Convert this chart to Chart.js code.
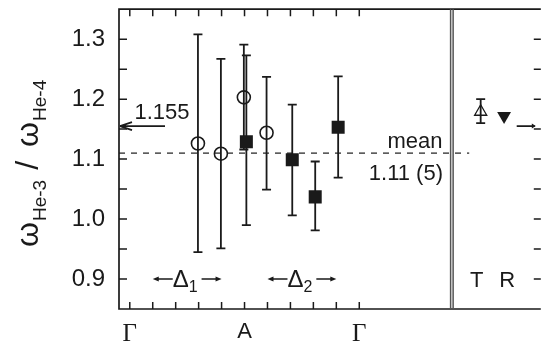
<!DOCTYPE html>
<html>
<head>
<meta charset="utf-8">
<script src="https://cdn.jsdelivr.net/npm/chart.js@4.4.1/dist/chart.umd.min.js"></script>
<style>
html, body { margin: 0; padding: 0; background: #fff; overflow: hidden; }
#wrap { width: 543px; height: 343px; overflow: hidden; }
</style>
</head>
<body>
<div id="wrap"><canvas id="chart" width="550" height="343"></canvas></div>
<script>
// open circles
const circleX = [2.97, 3.97, 4.97, 5.96];
const circleY = [1.126, 1.109, 1.203, 1.144];
const circleLow = [0.945, 0.951, 1.116, 1.049];
const circleHigh = [1.308, 1.267, 1.291, 1.237];

// filled squares
const squareX = [5.08, 7.08, 8.08, 9.08];
const squareY = [1.129, 1.099, 1.037, 1.153];
const squareLow = [0.990, 1.006, 0.981, 1.069];
const squareHigh = [1.273, 1.191, 1.096, 1.238];

// right panel: T (open triangle) and R (filled triangle)
const tX = [15.29];
const tY = [1.179];
const tLow = [1.160];
const tHigh = [1.200];
const rX = [16.31];
const rY = [1.172];

const xTickVals = [0, 1, 2, 3, 4, 5, 6, 7, 8, 9, 10];
const xLabelAt = [0, 5, 10];
const xLabels = ["Γ", "A", "Γ"];
const yMajor = [0.9, 1.0, 1.1, 1.2, 1.3];
const yMinor = [0.9, 0.95, 1.0, 1.05, 1.1, 1.15, 1.2, 1.25, 1.3];

const meanValue = 1.11;
const arrowValue = 1.155;
const deltaSpans = [[1, 4], [6, 9]];
const deltaSubs = ["1", "2"];
const splitAt = [13.98, 14.09];

const sans = '"Liberation Sans", Arial, Helvetica, sans-serif';
const serif = '"Liberation Serif", "Times New Roman", serif';
const ink = "#1a1a1a";

function pts(xs, ys) {
  return xs.map((x, i) => ({ x: x, y: ys[i] }));
}

function errBars(ctx, x, y, xs, lo, hi, cap) {
  xs.forEach((v, i) => {
    const px = x.getPixelForValue(v);
    const a = y.getPixelForValue(lo[i]);
    const b = y.getPixelForValue(hi[i]);
    ctx.beginPath();
    ctx.moveTo(px, a); ctx.lineTo(px, b);
    ctx.moveTo(px - cap, a); ctx.lineTo(px + cap, a);
    ctx.moveTo(px - cap, b); ctx.lineTo(px + cap, b);
    ctx.stroke();
  });
}

function headLeft(ctx, x, y, len, half) {
  ctx.beginPath();
  ctx.moveTo(x, y); ctx.lineTo(x + len, y - half); ctx.lineTo(x + len, y + half);
  ctx.closePath(); ctx.fill();
}
function headRight(ctx, x, y, len, half) {
  ctx.beginPath();
  ctx.moveTo(x, y); ctx.lineTo(x - len, y - half); ctx.lineTo(x - len, y + half);
  ctx.closePath(); ctx.fill();
}

const decor = {
  id: "decor",
  beforeDatasetsDraw(chart) {
    const { ctx, chartArea: area, scales: { x, y } } = chart;
    ctx.save();
    // mean line
    const my = y.getPixelForValue(meanValue);
    ctx.strokeStyle = ink;
    ctx.lineWidth = 1.2;
    ctx.setLineDash([6, 6]);
    ctx.beginPath();
    ctx.moveTo(area.left, my);
    ctx.lineTo(x.getPixelForValue(14.79), my);
    ctx.stroke();
    ctx.setLineDash([]);
    // error bars
    ctx.lineWidth = 1.8;
    errBars(ctx, x, y, circleX, circleLow, circleHigh, 4.5);
    errBars(ctx, x, y, squareX, squareLow, squareHigh, 4.5);
    errBars(ctx, x, y, tX, tLow, tHigh, 4.5);
    ctx.restore();
  },
  afterDraw(chart) {
    const { ctx, chartArea: area, scales: { x, y } } = chart;
    ctx.save();
    ctx.strokeStyle = ink;
    ctx.fillStyle = ink;
    ctx.lineWidth = 1.7;

    // frame
    ctx.beginPath();
    ctx.moveTo(area.right, area.top); ctx.lineTo(area.left, area.top);
    ctx.lineTo(area.left, area.bottom); ctx.lineTo(area.right, area.bottom);
    ctx.stroke();

    // ticks
    ctx.lineWidth = 1.5;
    ctx.beginPath();
    yMinor.forEach(v => {
      const py = y.getPixelForValue(v);
      ctx.moveTo(area.left, py); ctx.lineTo(area.left + 8, py);
      ctx.moveTo(area.right, py); ctx.lineTo(area.right - 7, py);
    });
    xTickVals.forEach(v => {
      const px = x.getPixelForValue(v);
      ctx.moveTo(px, area.top); ctx.lineTo(px, area.top + 7);
      ctx.moveTo(px, area.bottom); ctx.lineTo(px, area.bottom - 7);
    });
    ctx.stroke();

    // panel split
    ctx.strokeStyle = "#555";
    ctx.lineWidth = 1.5;
    ctx.beginPath();
    splitAt.forEach(v => {
      const px = x.getPixelForValue(v);
      ctx.moveTo(px, area.top); ctx.lineTo(px, area.bottom);
    });
    ctx.stroke();
    ctx.strokeStyle = ink;

    // 1.155 arrows
    const ay = y.getPixelForValue(arrowValue);
    ctx.lineWidth = 1.7;
    ctx.beginPath();
    ctx.moveTo(area.left + 2, ay); ctx.lineTo(165, ay);
    ctx.moveTo(area.left + 1, ay); ctx.lineTo(area.left + 13, ay - 4);
    ctx.moveTo(area.left + 1, ay); ctx.lineTo(area.left + 13, ay + 4);
    ctx.moveTo(x.getPixelForValue(16.86), ay); ctx.lineTo(area.right - 6, ay);
    ctx.stroke();
    headRight(ctx, area.right - 5, ay, 4, 2.5);

    ctx.font = "22px " + sans;
    ctx.textBaseline = "alphabetic";
    ctx.textAlign = "center";
    ctx.fillText("1.155", 162, ay - 7);

    const my = y.getPixelForValue(meanValue);
    ctx.fillText("mean", 415, my - 5);
    ctx.textAlign = "right";
    ctx.fillText("1.11 (5)", 443, my + 27);

    // delta spans
    const dy = y.getPixelForValue(0.9);
    ctx.lineWidth = 1.3;
    deltaSpans.forEach((s, i) => {
      const a = x.getPixelForValue(s[0]);
      const b = x.getPixelForValue(s[1]);
      ctx.beginPath();
      ctx.moveTo(a + 5, dy); ctx.lineTo(a + 20, dy);
      ctx.moveTo(b - 20, dy); ctx.lineTo(b - 5, dy);
      ctx.stroke();
      headLeft(ctx, a, dy, 6, 2.5);
      headRight(ctx, b, dy, 6, 2.5);
      ctx.textAlign = "left";
      ctx.font = "24px " + sans;
      ctx.fillText("Δ", a + 20, dy + 8);
      const w = ctx.measureText("Δ").width;
      ctx.font = "16px " + sans;
      ctx.fillText(deltaSubs[i], a + 20 + w, dy + 13);
    });

    // T R
    ctx.font = "22px " + sans;
    ctx.textAlign = "center";
    ctx.fillText("T", x.getPixelForValue(tX[0]) - 4, dy + 8);
    ctx.fillText("R", x.getPixelForValue(rX[0]) + 3, dy + 8);

    // y title
    ctx.translate(38, 247);
    ctx.rotate(-Math.PI / 2);
    ctx.textAlign = "left";
    let cx = 0;
    const big = "32px " + sans;
    const small = "19px " + sans;
    const piece = (t, f, dyOff, gap) => {
      ctx.font = f;
      ctx.fillText(t, cx, dyOff);
      cx += ctx.measureText(t).width + gap;
    };
    piece("ω", big, 0, 1);
    piece("He-3", small, 8, 10);
    piece("/", big, 0, 14);
    piece("ω", big, 0, 1);
    piece("He-4", small, 8, 0);
    ctx.restore();
  }
};

new Chart(document.getElementById("chart"), {
  type: "scatter",
  data: {
    datasets: [
      { data: pts(circleX, circleY), pointStyle: "circle", pointRadius: 6.5, borderWidth: 1.6,
        borderColor: ink, backgroundColor: "rgba(0,0,0,0)" },
      { data: pts(squareX, squareY), pointStyle: "rect", pointRadius: 9.2, borderWidth: 0,
        borderColor: ink, backgroundColor: ink },
      { data: pts(tX, tY), pointStyle: "triangle", pointRadius: 7, borderWidth: 1.3,
        borderColor: ink, backgroundColor: "rgba(0,0,0,0)" },
      { data: pts(rX, rY), pointStyle: "triangle", rotation: 180, pointRadius: 8, borderWidth: 0,
        borderColor: ink, backgroundColor: ink }
    ]
  },
  options: {
    responsive: false,
    animation: false,
    devicePixelRatio: 1,
    layout: { padding: { top: 8, right: 2, left: 0, bottom: 0 } },
    plugins: { legend: { display: false }, tooltip: { enabled: false } },
    scales: {
      x: {
        type: "linear", min: -0.47, max: 17.91,
        grid: { display: false, drawTicks: false },
        border: { display: false },
        afterBuildTicks: s => { s.ticks = xLabelAt.map(v => ({ value: v })); },
        afterFit: s => { s.height = 34; s.paddingLeft = 0; s.paddingRight = 0; },
        ticks: {
          padding: 10, color: ink, autoSkip: false, maxRotation: 0,
          callback: (v, i) => xLabels[i],
          font: c => ({ family: c.index === 1 ? sans : serif, size: c.index === 1 ? 22 : 25 })
        }
      },
      y: {
        min: 0.85, max: 1.35,
        grid: { display: false, drawTicks: false },
        border: { display: false },
        afterBuildTicks: s => { s.ticks = yMajor.map(v => ({ value: v })); },
        afterFit: s => { s.width = 119; s.paddingTop = 0; s.paddingBottom = 0; },
        ticks: {
          padding: 14, color: ink,
          callback: v => v.toFixed(1),
          font: { family: sans, size: 24 }
        }
      }
    }
  },
  plugins: [decor]
});
</script>
</body>
</html>
